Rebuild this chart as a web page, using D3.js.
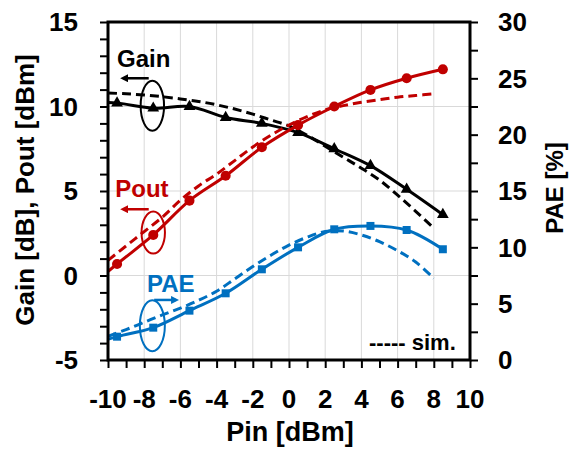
<!DOCTYPE html>
<html>
<head>
<meta charset="utf-8">
<script src="https://cdn.jsdelivr.net/npm/d3@7"></script>
<style>
  html, body { margin: 0; padding: 0; background: #fff; }
  svg { display: block; }
  text { font-family: "Liberation Sans", Arial, sans-serif; font-weight: bold; }
</style>
</head>
<body>
<svg id="chart" width="574" height="461"></svg>
<script>
// Measured sweep (solid lines with markers). The first point lies left of the
// axis range so the curves run in from the frame edge; it is clipped.
const pinMeasured  = [-11.5, -9.5, -7.5, -5.5, -3.5, -1.5, 0.5, 2.5, 4.5, 6.5, 8.5];
const gainMeasured = [10.3, 10.2, 9.9, 10.0, 9.35, 9.0, 8.45, 7.5, 6.5, 5.1, 3.6];
const poutMeasured = [-1.1, 0.68, 2.4, 4.43, 5.9, 7.59, 8.9, 10.0, 10.98, 11.67, 12.2];
const paeMeasured  = [1.1, 2.07, 2.87, 4.38, 5.92, 8.05, 10.0, 11.6, 11.9, 11.54, 9.83];

// Simulated sweep (dashed lines)
const pinSim  = [-10, -9, -8, -7, -6, -5, -4, -3, -2, -1, 0, 1, 2, 3, 4, 5, 6, 7, 8];
const gainSim = [10.8, 10.75, 10.68, 10.58, 10.45, 10.3, 10.1, 9.85, 9.55, 9.2, 8.85, 8.3, 7.65, 7.0, 6.35, 5.65, 4.75, 3.8, 2.8];
const poutSim = [0.9, 1.75, 2.6, 3.45, 4.45, 5.3, 6.0, 6.8, 7.6, 8.3, 8.9, 9.4, 9.8, 10.05, 10.25, 10.4, 10.55, 10.65, 10.75];
const paeSim  = [2.1, 2.7, 3.35, 4.0, 4.6, 5.3, 6.1, 7.2, 8.3, 9.3, 10.2, 10.9, 11.4, 11.45, 11.1, 10.5, 9.7, 8.7, 7.25];

// Axis ticks and labels
const xTickLabels      = [-10, -8, -6, -4, -2, 0, 2, 4, 6, 8, 10];
const yLeftTickLabels  = [-5, 0, 5, 10, 15];
const yRightTickLabels = [0, 5, 10, 15, 20, 25, 30];

const RED = "#c00000", BLUE = "#0070c0", BLACK = "#000";

const svg = d3.select("#chart");
const plotL = 108, plotR = 470, plotT = 22, plotB = 360;

const x  = d3.scaleLinear().domain([-10, 10]).range([plotL, plotR]);
const yL = d3.scaleLinear().domain([-5, 15]).range([plotB, plotT]);
const yR = d3.scaleLinear().domain([0, 30]).range([plotB, plotT]);

// Arrowheads for the annotation pointers
const defs = svg.append("defs");
[["arrBlack", BLACK], ["arrRed", RED], ["arrBlue", BLUE]].forEach(([id, c]) => {
  defs.append("marker").attr("id", id)
    .attr("viewBox", "0 0 10 10").attr("refX", 6).attr("refY", 5)
    .attr("markerWidth", 8).attr("markerHeight", 8)
    .attr("markerUnits", "userSpaceOnUse").attr("orient", "auto")
    .append("path").attr("d", "M0,0 L10,5 L0,10 Z").attr("fill", c);
});
defs.append("clipPath").attr("id", "plotClip")
  .append("rect").attr("x", plotL).attr("y", plotT)
  .attr("width", plotR - plotL).attr("height", plotB - plotT);

// Gridlines
const grid = svg.append("g").attr("stroke", "#d9d9d9").attr("stroke-width", 1);
grid.selectAll("line.v").data(xTickLabels.filter(d => d > -10 && d < 10)).join("line")
  .attr("class", "v")
  .attr("x1", d => x(d)).attr("x2", d => x(d)).attr("y1", plotT).attr("y2", plotB);
grid.selectAll("line.h").data(yLeftTickLabels.filter(d => d > -5 && d < 15)).join("line")
  .attr("class", "h")
  .attr("x1", plotL).attr("x2", plotR).attr("y1", d => yL(d)).attr("y2", d => yL(d));

// Axes (ticks outward, labels every 5 / 2 units)
const axL = svg.append("g").attr("transform", `translate(${plotL},0)`)
  .call(d3.axisLeft(yL).tickValues(d3.range(-5, 16, 1)).tickSize(8).tickFormat(""));
const axR = svg.append("g").attr("transform", `translate(${plotR},0)`)
  .call(d3.axisRight(yR).tickValues(d3.range(0, 30.1, 2.5)).tickSize(8).tickFormat(""));
const axB = svg.append("g").attr("transform", `translate(0,${plotB})`)
  .call(d3.axisBottom(x).tickValues(d3.range(-10, 11, 1)).tickSize(8).tickFormat(""));
[axL, axR, axB].forEach(g => {
  g.select(".domain").remove();
  g.selectAll(".tick line").attr("stroke", BLACK).attr("stroke-width", 2);
});

svg.append("g").selectAll("text").data(yLeftTickLabels).join("text")
  .attr("x", plotL - 30).attr("y", d => yL(d)).attr("dy", "0.36em")
  .attr("text-anchor", "end").attr("font-size", 26).text(d => d);
svg.append("g").selectAll("text").data(yRightTickLabels).join("text")
  .attr("x", plotR + 28).attr("y", d => yR(d)).attr("dy", "0.36em")
  .attr("text-anchor", "start").attr("font-size", 26).text(d => d);
svg.append("g").selectAll("text").data(xTickLabels).join("text")
  .attr("x", d => x(d)).attr("y", 408)
  .attr("text-anchor", "middle").attr("font-size", 26).text(d => d);

// Axis titles
svg.append("text").attr("transform", "translate(34,190) rotate(-90)")
  .attr("text-anchor", "middle").attr("font-size", 26).text("Gain [dB], Pout [dBm]");
svg.append("text").attr("transform", "translate(563,188) rotate(-90)")
  .attr("text-anchor", "middle").attr("font-size", 24).text("PAE [%]");
svg.append("text").attr("x", 290).attr("y", 441)
  .attr("text-anchor", "middle").attr("font-size", 27).text("Pin [dBm]");

// Data
const plot = svg.append("g").attr("clip-path", "url(#plotClip)");
const zipM = ys => pinMeasured.map((p, i) => [p, ys[i]]);
const zipS = ys => pinSim.map((p, i) => [p, ys[i]]);

const series = [
  { meas: zipM(gainMeasured), sim: zipS(gainSim), y: yL, color: BLACK, sym: d3.symbolTriangle, size: 60 },
  { meas: zipM(poutMeasured), sim: zipS(poutSim), y: yL, color: RED,   sym: d3.symbolCircle,   size: 80 },
  { meas: zipM(paeMeasured),  sim: zipS(paeSim),  y: yR, color: BLUE,  sym: d3.symbolSquare,   size: 64 }
];

series.forEach(s => {
  const line = d3.line().x(d => x(d[0])).y(d => s.y(d[1])).curve(d3.curveCatmullRom.alpha(0.5));
  plot.append("path").datum(s.sim).attr("d", line)
    .attr("fill", "none").attr("stroke", s.color).attr("stroke-width", 3)
    .attr("stroke-dasharray", "9,5");
  plot.append("path").datum(s.meas).attr("d", line)
    .attr("fill", "none").attr("stroke", s.color).attr("stroke-width", 3);
  plot.append("g").selectAll("path").data(s.meas).join("path")
    .attr("transform", d => `translate(${x(d[0])},${s.y(d[1])})`)
    .attr("d", d3.symbol(s.sym, s.size)).attr("fill", s.color);
});

// Frame
svg.append("rect").attr("x", plotL).attr("y", plotT)
  .attr("width", plotR - plotL).attr("height", plotB - plotT)
  .attr("fill", "none").attr("stroke", BLACK).attr("stroke-width", 3);

// Annotations: series name, ellipse around the curve, arrow toward its axis
const notes = [
  { label: "Gain", color: BLACK, arrow: "arrBlack", y: yL,
    tx: -9.5, ty: 12.34, ex: -7.55, ey: 10.05, rx: 11.7, ry: 25,
    a0: -7.75, a1: -9.15, ay: 11.67 },
  { label: "Pout", color: RED, arrow: "arrRed", y: yL,
    tx: -9.6, ty: 4.64, ex: -7.5, ey: 2.54, rx: 11.7, ry: 21,
    a0: -7.75, a1: -9.15, ay: 3.92 },
  { label: "PAE", color: BLUE, arrow: "arrBlue", y: yR,
    tx: -7.85, ty: 6.04, ex: -7.55, ey: 3.04, rx: 12.5, ry: 25.5,
    a0: -7.45, a1: -6.25, ay: 5.33 }
];
notes.forEach(n => {
  svg.append("text").attr("x", x(n.tx)).attr("y", n.y(n.ty))
    .attr("font-size", 24).attr("fill", n.color).text(n.label);
  svg.append("ellipse").attr("cx", x(n.ex)).attr("cy", n.y(n.ey))
    .attr("rx", n.rx).attr("ry", n.ry)
    .attr("fill", "none").attr("stroke", n.color).attr("stroke-width", 2);
  svg.append("line").attr("x1", x(n.a0)).attr("x2", x(n.a1))
    .attr("y1", n.y(n.ay)).attr("y2", n.y(n.ay))
    .attr("stroke", n.color).attr("stroke-width", 2.5)
    .attr("marker-end", `url(#${n.arrow})`);
});

// Simulation key
svg.append("text").attr("x", 369).attr("y", 350)
  .attr("font-size", 22).attr("fill", BLACK).text("----- sim.");
</script>
</body>
</html>
